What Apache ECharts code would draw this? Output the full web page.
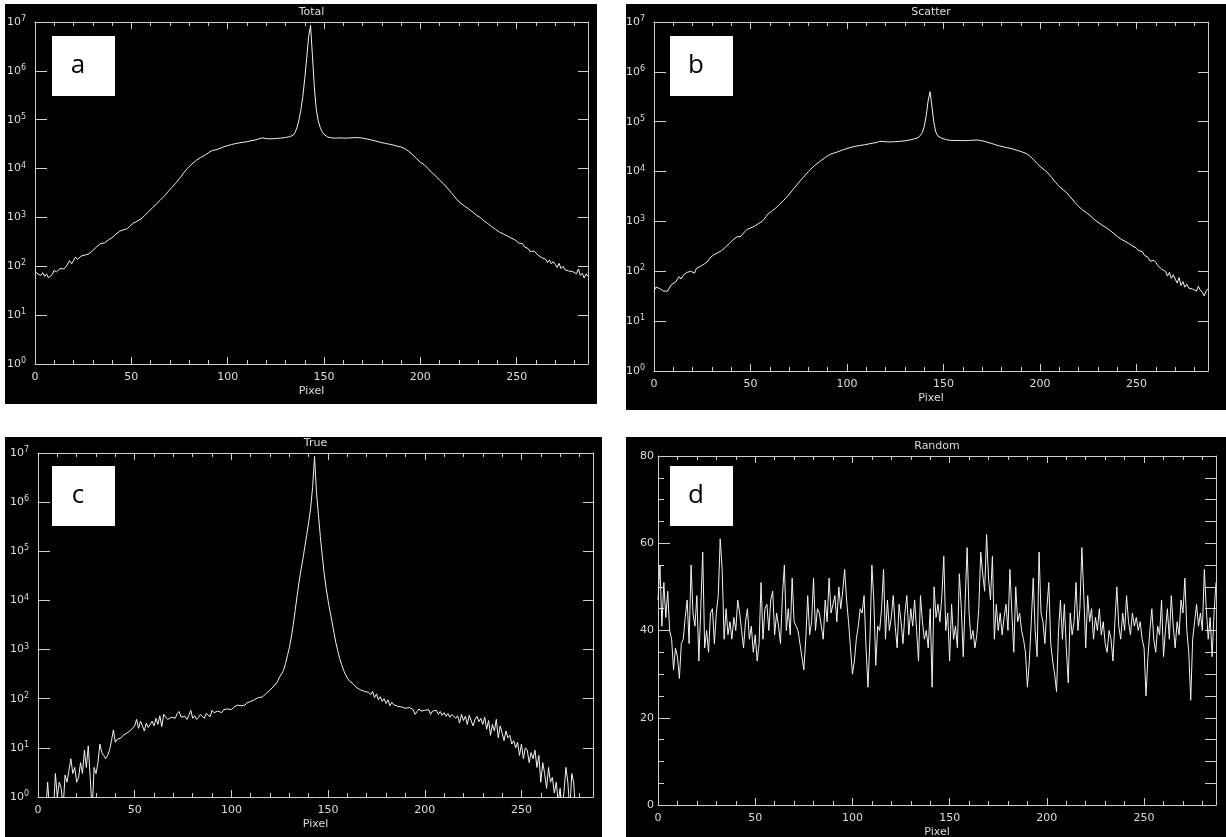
<!DOCTYPE html>
<html><head><meta charset="utf-8">
<script src="https://cdn.jsdelivr.net/npm/echarts@6/dist/echarts.min.js"></script>
<style>html,body{margin:0;padding:0;background:#fff}#c{width:1226px;height:837px}</style>
</head><body><div id="c"></div>
<script>
// ---- data (pixel index = array index, 0..287) ----
const total = [
80,72,78,65,74,62,70,58,56,68,
84,76,80,90,95,88,97,105,130,112,
110,155,138,150,162,158,170,185,180,195,
210,225,250,270,292,285,300,320,345,360,
385,420,455,490,525,545,560,570,590,650,
700,760,800,840,880,930,1000,1100,1200,1320,
1450,1580,1720,1880,2050,2250,2450,2700,3000,3350,
3700,4100,4500,5000,5600,6300,7000,8000,9000,10000,
11000,12000,13000,14000,15000,16000,16800,17600,18600,19800,
21000,22300,23500,23800,24200,25200,26000,27000,28000,28800,
29500,30200,31000,31800,32500,33000,33500,34000,34500,35000,
35500,36200,37000,37600,38200,39000,40500,42000,42500,41500,
41000,40800,40500,40800,41000,41300,41600,42000,42300,42800,
43300,44000,44800,46000,48000,55000,70000,100000,160000,300000,
700000,1800000,5000000,8500000,2000000,450000,160000,95000,70000,57000,
50000,46000,44000,43000,42500,42000,42000,42200,42500,42300,
42000,41800,42000,42200,42500,42800,43000,43200,43000,42500,
42000,41200,40500,39800,39000,38200,37300,36400,35500,34700,
34000,33300,32600,32000,31500,31000,30300,29500,28800,28200,
27600,27000,25500,24000,22500,21000,19200,17500,16000,14800,
13500,12700,12000,11000,10000,9000,8300,7600,7000,6400,
5800,5300,4900,4500,4000,3600,3200,2900,2600,2300,
2100,1950,1800,1700,1600,1500,1400,1300,1200,1120,
1050,1000,920,850,800,750,700,650,600,570,
540,500,480,460,440,420,400,380,360,350,
330,300,280,290,250,240,230,200,215,205,
190,170,175,150,160,140,118,135,112,125,
110,95,115,90,100,85,92,80,86,78,
82,70,88,65,72,58,70,62];

const scatter = [
40,48,52,45,42,40,41,40,42,54,
57,60,62,78,70,82,80,95,90,100,
105,92,115,110,125,130,140,150,160,185,
200,215,225,235,245,260,280,305,330,360,
390,430,470,490,495,500,560,620,680,720,
740,760,800,850,900,950,1000,1100,1250,1400,
1500,1600,1700,1850,2000,2200,2400,2600,2850,3150,
3500,3900,4350,4850,5400,6000,6700,7400,8200,9100,
10000,11000,12000,13000,14000,15000,16000,17100,18200,19500,
21000,22000,23000,23300,23800,24800,25600,26500,27400,28200,
29000,29800,30500,31300,32000,32500,33000,33500,34000,34500,
35000,35600,36300,37000,37500,38000,39000,40500,41000,40000,
39500,39300,39000,39300,39500,39800,40000,40300,40600,41000,
41500,42000,42800,43500,44500,45500,46500,48000,52000,60000,
80000,130000,260000,400000,200000,95000,62000,52000,49000,47000,
45500,44000,43000,42500,42300,42000,42000,42100,42300,42100,
41800,41600,41800,42000,42300,42500,42800,43000,42800,42200,
41500,40500,39500,38500,37500,36500,35500,34500,33500,32700,
32000,31300,30600,30000,29500,29000,28300,27500,26700,26000,
25300,24500,23700,23000,21500,20000,18300,16700,15200,13800,
12700,11800,11000,10300,9400,8500,7600,6800,6100,5500,
5000,4600,4300,4000,3700,3300,3000,2700,2400,2200,
2000,1850,1700,1600,1500,1400,1300,1200,1100,1020,
960,900,850,800,760,720,670,620,580,540,
500,460,440,420,400,380,360,340,320,310,
290,260,240,250,210,200,190,160,175,165,
150,130,135,110,120,100,80,95,72,85,
70,58,75,52,62,48,55,46,50,44,
46,40,50,42,38,32,40,45];

const trueCounts = [
0.5,0.5,0.5,0.5,0.5,2,0.5,0.5,0.5,3,
1,2,1.5,0.6,2.8,2,3.5,6,3,4,
2,2.5,5,3,9,4,11,2.5,0.5,4,
3,5,12,8,7,6,7,9,14,23,
13,15,14,16,18,17,20,19,23,21,
28,38,25,35,28,22,32,26,30,35,
28,40,30,45,27,48,44,38,36,42,
45,40,50,55,42,40,44,38,46,58,
40,45,38,42,48,44,40,50,46,43,
58,52,48,56,54,52,60,56,62,58,
60,66,70,74,68,72,66,74,82,85,
88,92,96,100,106,112,108,118,128,138,
150,165,180,200,230,280,320,380,520,760,
1100,1800,3200,6300,12500,24000,42000,70000,125000,220000,
400000,760000,2000000,8500000,1600000,560000,200000,80000,35000,17800,
10000,6000,3800,2250,1400,950,660,500,380,310,
260,230,215,200,190,165,180,150,160,140,
150,135,120,140,105,125,95,110,88,100,
80,95,72,85,75,80,70,75,68,72,
64,70,66,72,60,48,55,62,56,60,
58,54,60,48,56,52,58,48,55,46,
52,44,50,42,48,46,40,45,32,48,
36,44,30,46,42,28,38,44,34,40,
30,42,24,36,18,30,22,38,16,28,
20,14,22,16,18,12,14,10,13,7,
12,6,10,9,5,8,6,9,4,7,
2,5,3,1.5,4,2,2.5,1.2,2,0.8,
1.5,0.5,1.3,4,2,0.5,3,2,0.5,0.5,
0.5,0.5,0.5,0.5,0.5,0.5,0.5,0.5];

const randomCounts = [
47,55,41,51,43,49,40,38,31,36,
34,29,37,38,43,47,37,55,44,41,
48,33,45,58,36,40,35,44,45,37,
44,48,61,54,38,45,39,42,38,43,
40,47,44,40,36,42,45,38,41,35,
39,33,37,51,38,45,46,40,47,49,
39,44,41,37,48,55,40,45,39,52,
42,41,40,37,34,31,38,48,39,42,
52,40,45,44,41,38,47,42,52,44,
46,48,42,50,45,49,54,47,42,36,
30,33,38,41,45,44,48,36,27,38,
55,47,32,41,40,45,54,38,47,40,
43,48,41,36,46,42,37,44,48,39,
45,41,47,40,33,48,42,38,40,36,
45,27,50,43,46,42,48,57,40,44,
33,46,38,41,36,53,45,34,47,59,
44,38,40,36,39,45,58,53,49,62,
52,47,57,38,46,40,44,39,43,46,
40,54,44,35,50,42,44,40,38,35,
27,33,42,52,40,34,58,44,42,37,
45,51,37,33,30,26,40,47,38,46,
36,28,44,39,42,51,40,45,59,48,
36,48,42,45,38,43,40,45,39,42,
37,35,40,38,33,42,50,41,38,44,
40,48,42,39,44,41,43,40,42,38,
36,25,34,40,45,38,35,41,39,47,
34,40,45,38,48,41,36,42,39,47,
44,52,40,35,24,38,42,46,41,44,
40,54,45,38,43,34,44,51];

const titles = ['Total', 'Scatter', 'True', 'Random'];
const letters = ['a', 'b', 'c', 'd'];
const xTickLabels = [0, 50, 100, 150, 200, 250];
const randomTickLabels = [0, 20, 40, 60, 80];
const pixelMax = 287;

// ---- layout / style ----
const AX = '#d0d0d0', TXT = '#dcdcdc', LINE = '#f2f2f2', FONT = 'DejaVu Sans';
const grids = [
  {left: 35, top: 22, width: 553, height: 342},
  {left: 654, top: 22, width: 554, height: 349},
  {left: 38, top: 453, width: 555, height: 344},
  {left: 658, top: 456, width: 558, height: 349}
];
const panels = [[5, 4, 592, 400], [626, 4, 600, 406], [5, 437, 597, 400], [626, 437, 600, 400]];
const boxes = [[52, 36], [670, 36], [52, 466], [670, 466]];
const seriesData = [total, scatter, trueCounts, randomCounts];

const xAxis = [], yAxis = [], series = [];
const txt = {color: TXT, fontSize: 11, fontFamily: FONT};
const line = {show: true, onZero: false, lineStyle: {color: AX, width: 1}};
const noLine = {show: false, onZero: false};
grids.forEach((g, i) => {
  const base = {gridIndex: i, type: 'value', min: 0, max: pixelMax, splitLine: {show: false}, minorTick: {show: false}};
  const xi = xAxis.length;
  xAxis.push(Object.assign({}, base, {position: 'bottom', interval: 10, axisLine: line,
    axisTick: {show: true, inside: true, length: 4, lineStyle: {color: AX}},
    axisLabel: {show: false}}));
  xAxis.push(Object.assign({}, base, {position: 'bottom', interval: 50, axisLine: noLine,
    axisTick: {show: true, inside: true, length: 7, lineStyle: {color: AX}},
    axisLabel: Object.assign({margin: 8, formatter: v => xTickLabels.includes(v) ? String(v) : ''}, txt),
    name: 'Pixel', nameLocation: 'middle', nameGap: 22, nameTextStyle: txt}));
  xAxis.push(Object.assign({}, base, {position: 'top', interval: 10, axisLine: line,
    axisTick: {show: true, inside: true, length: 4, lineStyle: {color: AX}},
    axisLabel: {show: false}}));
  xAxis.push(Object.assign({}, base, {position: 'top', interval: 50, axisLine: noLine,
    axisTick: {show: true, inside: true, length: 7, lineStyle: {color: AX}},
    axisLabel: {show: false},
    name: titles[i], nameLocation: 'middle', nameGap: 4, nameTextStyle: txt}));

  const yi = yAxis.length;
  if (i < 3) {
    const lb = {gridIndex: i, type: 'log', logBase: 10, min: 1, max: 1e7, splitNumber: 7,
      splitLine: {show: false}, minorTick: {show: false}, minorSplitLine: {show: false}};
    yAxis.push(Object.assign({}, lb, {position: 'left', axisLine: line,
      axisTick: {show: true, inside: true, length: 12, lineStyle: {color: AX}},
      axisLabel: {margin: 9, formatter: v => '{b|10}{s|' + Math.round(Math.log10(v)) + '}',
        rich: {b: {color: TXT, fontSize: 11, fontFamily: FONT, lineHeight: 14},
               s: {color: TXT, fontSize: 8, fontFamily: FONT, verticalAlign: 'top', lineHeight: 9}}}}));
    yAxis.push(Object.assign({}, lb, {position: 'right', axisLine: line,
      axisTick: {show: true, inside: true, length: 10, lineStyle: {color: AX}},
      axisLabel: {show: false}}));
  } else {
    const vb = {gridIndex: i, type: 'value', min: 0, max: 80, splitLine: {show: false}, minorTick: {show: false}};
    yAxis.push(Object.assign({}, vb, {position: 'left', interval: 5, axisLine: line,
      axisTick: {show: true, inside: true, length: 6, lineStyle: {color: AX}},
      axisLabel: {show: false}}));
    yAxis.push(Object.assign({}, vb, {position: 'left', interval: 20, axisLine: noLine,
      axisTick: {show: true, inside: true, length: 12, lineStyle: {color: AX}},
      axisLabel: Object.assign({margin: 4, formatter: v => randomTickLabels.includes(v) ? String(v) : ''}, txt)}));
    yAxis.push(Object.assign({}, vb, {position: 'right', interval: 5, axisLine: line,
      axisTick: {show: true, inside: true, length: 11, lineStyle: {color: AX}},
      axisLabel: {show: false}}));
  }
  series.push({type: 'line', xAxisIndex: xi, yAxisIndex: yi, symbol: 'none', showSymbol: false,
    clip: true, silent: true, animation: false,
    lineStyle: {color: LINE, width: 1}, itemStyle: {color: LINE},
    data: seriesData[i].map((v, k) => [k, v])});
});

const graphic = [];
panels.forEach(p => graphic.push({type: 'rect', z: -10, silent: true,
  shape: {x: p[0], y: p[1], width: p[2], height: p[3]}, style: {fill: '#000'}}));
boxes.forEach((b, i) => {
  graphic.push({type: 'rect', z: 100, silent: true,
    shape: {x: b[0], y: b[1], width: 63, height: 60}, style: {fill: '#fff'}});
  graphic.push({type: 'text', z: 101, silent: true, x: b[0] + 26, y: b[1] + 30,
    style: {text: letters[i], font: '26px "Open Sans", "Liberation Sans", sans-serif', fill: '#000',
      textAlign: 'center', textVerticalAlign: 'middle', align: 'center', verticalAlign: 'middle'}});
});

const chart = echarts.init(document.getElementById('c'), null, {renderer: 'canvas'});
chart.setOption({
  animation: false,
  backgroundColor: '#fff',
  grid: grids.map(g => Object.assign({containLabel: false, outerBoundsMode: 'none'}, g)),
  xAxis, yAxis, series, graphic
});
</script></body></html>
